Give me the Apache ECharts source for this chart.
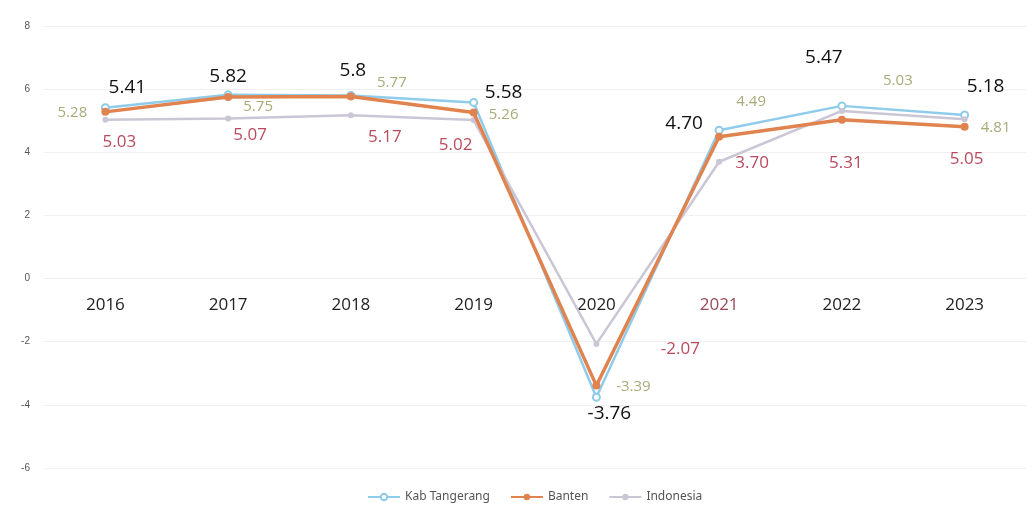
<!DOCTYPE html>
<html>
<head>
<meta charset="utf-8">
<script src="https://cdn.jsdelivr.net/npm/echarts@6/dist/echarts.min.js"></script>
<style>
  html, body { margin: 0; padding: 0; background: #fff; }
  #chart { width: 1033px; height: 517px; }
</style>
</head>
<body>
<div id="chart"></div>
<script>
// data
var years = ['2016', '2017', '2018', '2019', '2020', '2021', '2022', '2023'];
var kabTangerang = [5.41, 5.82, 5.8, 5.58, -3.76, 4.70, 5.47, 5.18];
var banten = [5.28, 5.75, 5.77, 5.26, -3.39, 4.49, 5.03, 4.81];
var indonesia = [5.03, 5.07, 5.17, 5.02, -2.07, 3.70, 5.31, 5.05];
var yTicks = [-6, -4, -2, 0, 2, 4, 6, 8];

// where each value label sits, relative to its point (layout only)
var kabOffsets = [[22, -20], [0, -18], [2, -25], [30, -10], [13, 16], [-35, -7], [-18, -48], [21, -28]];
var bantenOffsets = [[-33, 1], [30, 10], [41, -14], [30, 2], [37, 1], [32, -35], [56, -39], [31, 1]];
var indoOffsets = [[14, 22], [22, 17], [34, 22], [-18, 25], [84, 5], [33, 1], [4, 52], [2, 40]];

function withLabels(values, offsets, txt) {
    return values.map(function (v, i) {
        return {
            value: v,
            label: {
                show: true,
                position: 'inside',
                offset: offsets[i],
                formatter: String(v.toFixed(v === 5.8 ? 1 : 2)),
                color: txt.color,
                fontSize: txt.size,
                fontFamily: 'Open Sans, Noto Sans, sans-serif'
            }
        };
    });
}

var gridTop = 26, gridBottom = 49, chartH = 517;
var plotH = chartH - gridTop - gridBottom;
// distance from the bottom of the plot up to the zero line
var zeroLift = plotH * (0 - yTicks[0]) / (yTicks[yTicks.length - 1] - yTicks[0]);

var myChart = echarts.init(document.getElementById('chart'));
myChart.setOption({
    animation: false,
    grid: { left: 44, right: 7, top: gridTop, bottom: gridBottom },
    legend: {
        bottom: 9,
        left: 362,
        itemWidth: 32,
        itemHeight: 8,
        itemGap: 20,
        textStyle: { color: '#555', fontSize: 12, fontFamily: 'Noto Sans, sans-serif' },
        data: ['Kab Tangerang', 'Banten', 'Indonesia']
    },
    xAxis: {
        type: 'category',
        data: years,
        position: 'bottom',
        offset: -zeroLift,
        axisLine: { onZero: false, lineStyle: { color: '#eeeeee' } },
        axisTick: { show: false },
        axisLabel: {
            fontSize: 17,
            margin: 18,
            fontFamily: 'Open Sans, Noto Sans, sans-serif',
            color: function (v) { return v === '2021' ? '#9a4a58' : '#222'; }
        }
    },
    yAxis: {
        type: 'value',
        min: yTicks[0],
        max: yTicks[yTicks.length - 1],
        interval: 2,
        axisLine: { show: false },
        axisTick: { show: false },
        axisLabel: { color: '#555', fontSize: 10, margin: 14 },
        splitLine: { lineStyle: { color: '#f0f0f0' } }
    },
    series: [
        {
            name: 'Kab Tangerang',
            type: 'line',
            z: 2,
            data: withLabels(kabTangerang, kabOffsets, { color: '#111', size: 19 }),
            symbol: 'emptyCircle',
            symbolSize: 7,
            lineStyle: { color: '#8fcbea', width: 2.5 },
            itemStyle: { color: '#8fcbea', borderColor: '#8fcbea' }
        },
        {
            name: 'Banten',
            type: 'line',
            z: 4,
            data: withLabels(banten, bantenOffsets, { color: '#a9ab78', size: 15 }),
            symbol: 'circle',
            symbolSize: 8,
            lineStyle: { color: '#e0834e', width: 3.5 },
            itemStyle: { color: '#e0834e' }
        },
        {
            name: 'Indonesia',
            type: 'line',
            z: 3,
            data: withLabels(indonesia, indoOffsets, { color: '#b84a5c', size: 17 }),
            symbol: 'circle',
            symbolSize: 6,
            lineStyle: { color: '#cbc6d6', width: 2.5 },
            itemStyle: { color: '#cbc6d6' }
        }
    ]
});
</script>
</body>
</html>
